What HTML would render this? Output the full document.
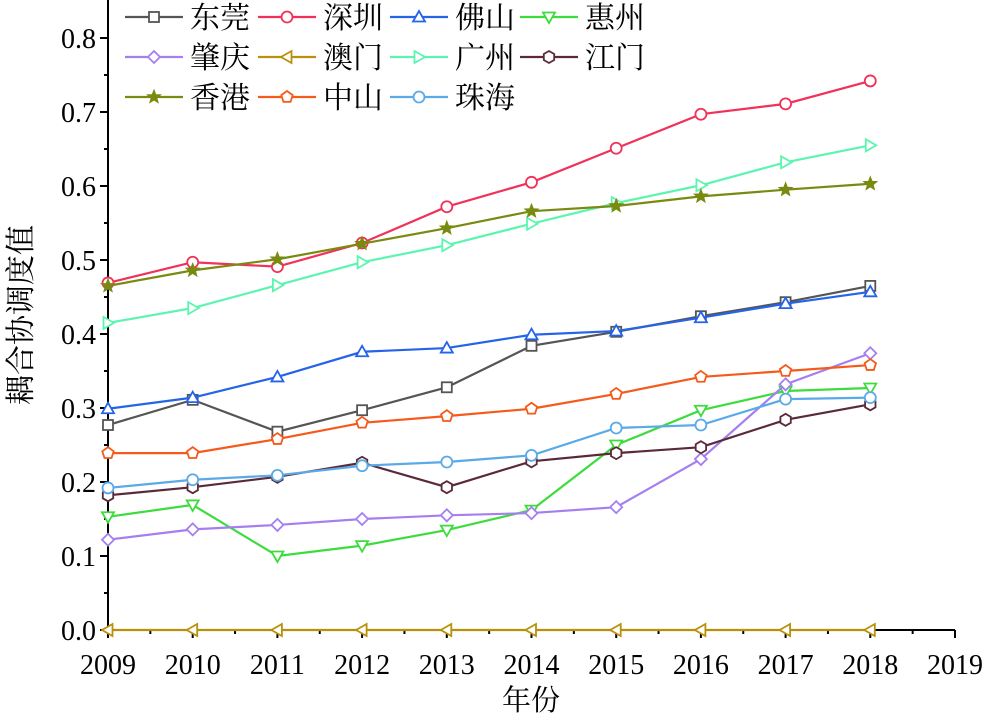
<!DOCTYPE html>
<html><head><meta charset="utf-8"><style>
html,body{margin:0;padding:0;background:#fff;}
svg{display:block;font-family:"Liberation Serif","Noto Serif CJK SC",serif;}
</style></head><body>
<svg id="chart" width="1000" height="721" viewBox="0 0 1000 721" xmlns="http://www.w3.org/2000/svg"></svg>
<script>
const years = [2009,2010,2011,2012,2013,2014,2015,2016,2017,2018];
const xTicks = [2009,2010,2011,2012,2013,2014,2015,2016,2017,2018,2019];
const yTicks = [0,0.1,0.2,0.3,0.4,0.5,0.6,0.7,0.8];
const seriesNames = ["东莞","深圳","佛山","惠州","肇庆","澳门","广州","江门","香港","中山","珠海"];
const dongguan = [0.277,0.311,0.268,0.297,0.328,0.384,0.403,0.424,0.443,0.465];
const shenzhen = [0.469,0.497,0.491,0.523,0.572,0.605,0.651,0.697,0.711,0.742];
const foshan = [0.299,0.314,0.342,0.376,0.381,0.399,0.404,0.422,0.441,0.457];
const huizhou = [0.153,0.169,0.100,0.114,0.135,0.162,0.250,0.297,0.323,0.327];
const zhaoqing = [0.122,0.136,0.142,0.150,0.155,0.158,0.166,0.231,0.332,0.374];
const macau = [0,0,0,0,0,0,0,0,0,0];
const guangzhou = [0.415,0.435,0.466,0.497,0.520,0.549,0.577,0.601,0.632,0.655];
const jiangmen = [0.182,0.193,0.207,0.226,0.193,0.228,0.239,0.247,0.284,0.305];
const hongkong = [0.465,0.486,0.501,0.522,0.543,0.566,0.573,0.586,0.595,0.603];
const zhongshan = [0.239,0.239,0.258,0.280,0.289,0.299,0.319,0.342,0.350,0.358];
const zhuhai = [0.192,0.203,0.209,0.222,0.227,0.236,0.273,0.277,0.312,0.314];

const allValues=[dongguan,shenzhen,foshan,huizhou,zhaoqing,macau,guangzhou,jiangmen,hongkong,zhongshan,zhuhai];
const colors=["#555555","#f0325a","#2563e8","#3ddc3d","#a57ff0","#b8900a","#5cf5b0","#5a2a3a","#7a8a10","#f55a1a","#5aaae8"];
const markers=["square","circle","tri-up","tri-down","diamond","tri-left","tri-right","hexagon","star","pentagon","circle"];
const keys=["dongguan","shenzhen","foshan","huizhou","zhaoqing","macau","guangzhou","jiangmen","hongkong","zhongshan","zhuhai"];

const X0=108,X1=955,Y0=630,Y8=38;
const xs=v=>X0+(v-2009)*(X1-X0)/10;
const ys=v=>Y0-v*(Y0-Y8)/0.8;
const svg=document.getElementById('chart');
const NS="http://www.w3.org/2000/svg";
function mk(t,a,p){const e=document.createElementNS(NS,t);for(const k in a)e.setAttribute(k,a[k]);(p||svg).appendChild(e);return e;}

function marker(type,cx,cy,col,g){
  const r=6;let e;
  const poly=pts=>mk('polygon',{points:pts.map(p=>p.join(',')).join(' '),fill:'#fff',stroke:col,'stroke-width':1.8},g);
  if(type==='square')e=mk('rect',{x:cx-5,y:cy-5,width:10,height:10,fill:'#fff',stroke:col,'stroke-width':1.8},g);
  else if(type==='circle')e=mk('circle',{cx,cy,r:5.5,fill:'#fff',stroke:col,'stroke-width':1.8},g);
  else if(type==='tri-up')e=poly([[cx,cy-r],[cx+r,cy+4.5],[cx-r,cy+4.5]]);
  else if(type==='tri-down')e=poly([[cx,cy+r],[cx+r,cy-4.5],[cx-r,cy-4.5]]);
  else if(type==='tri-left')e=poly([[cx-r,cy],[cx+4.5,cy-r],[cx+4.5,cy+r]]);
  else if(type==='tri-right')e=poly([[cx+r,cy],[cx-4.5,cy-r],[cx-4.5,cy+r]]);
  else if(type==='diamond')e=poly([[cx,cy-r],[cx+r,cy],[cx,cy+r],[cx-r,cy]]);
  else if(type==='hexagon'){const p=[];for(let i=0;i<6;i++){const a=Math.PI/3*i+Math.PI/6;p.push([cx+r*Math.cos(a),cy+r*Math.sin(a)]);}e=poly(p);}
  else if(type==='pentagon'){const p=[];for(let i=0;i<5;i++){const a=-Math.PI/2+2*Math.PI/5*i;p.push([cx+r*Math.cos(a),cy+r*Math.sin(a)]);}e=poly(p);}
  else if(type==='star'){const p=[];for(let i=0;i<10;i++){const a=-Math.PI/2+Math.PI/5*i,rr=i%2?3:7;p.push([cx+rr*Math.cos(a),cy+rr*Math.sin(a)]);}e=mk('polygon',{points:p.map(q=>q.join(',')).join(' '),fill:col,stroke:col,'stroke-width':1},g);}
  
  
}

const ax=mk('g',{});


mk('line',{x1:X0,y1:0,x2:X0,y2:Y0,stroke:'#000','stroke-width':2},ax);
mk('line',{x1:X0,y1:Y0,x2:X1,y2:Y0,stroke:'#000','stroke-width':2},ax);
yTicks.forEach(v=>{
  mk('line',{x1:X0-8,y1:ys(v),x2:X0,y2:ys(v),stroke:'#000','stroke-width':2},ax);
  const t=mk('text',{x:X0-12,y:ys(v)+10,'text-anchor':'end','font-size':28},ax);t.textContent=v.toFixed(1);
  
  
});
for(let i=0;i<8;i++){const v=0.05+0.1*i;mk('line',{x1:X0-4,y1:ys(v),x2:X0,y2:ys(v),stroke:'#000','stroke-width':2},ax);}
xTicks.forEach((v,i)=>{
  mk('line',{x1:xs(v),y1:Y0,x2:xs(v),y2:Y0+8,stroke:'#000','stroke-width':2},ax);
  if(i<10)mk('line',{x1:xs(v+0.5),y1:Y0,x2:xs(v+0.5),y2:Y0+4,stroke:'#000','stroke-width':2},ax);
  const t=mk('text',{x:xs(v),y:674,'text-anchor':'middle','font-size':28},ax);t.textContent=v;
  
  
});
let t=mk('text',{x:531,y:710,'text-anchor':'middle','font-size':29});t.textContent='年份';


t=mk('text',{x:0,y:0,'text-anchor':'middle','font-size':30,transform:'translate(31,315) rotate(-90)'});t.textContent='耦合协调度值';



allValues.forEach((vals,si)=>{
  const g=mk('g',{});
  
  
  mk('polyline',{points:vals.map((v,i)=>xs(years[i])+','+ys(v)).join(' '),fill:'none',stroke:colors[si],'stroke-width':2.2},g);
  vals.forEach((v,i)=>marker(markers[si],xs(years[i]),ys(v),colors[si],g));
});

const cols=[125,258,390,520];
const rows=[17,57,97];
seriesNames.forEach((n,i)=>{
  const c=i%4,r=Math.floor(i/4);
  const g=mk('g',{});
  
  
  const x=cols[c],y=rows[r];
  mk('line',{x1:x,y1:y,x2:x+58,y2:y,stroke:colors[i],'stroke-width':2.2},g);
  marker(markers[i],x+29,y,colors[i],g);
  const tt=mk('text',{x:x+65,y:y+11,'font-size':30},g);tt.textContent=n;
});
</script>
</body></html>
